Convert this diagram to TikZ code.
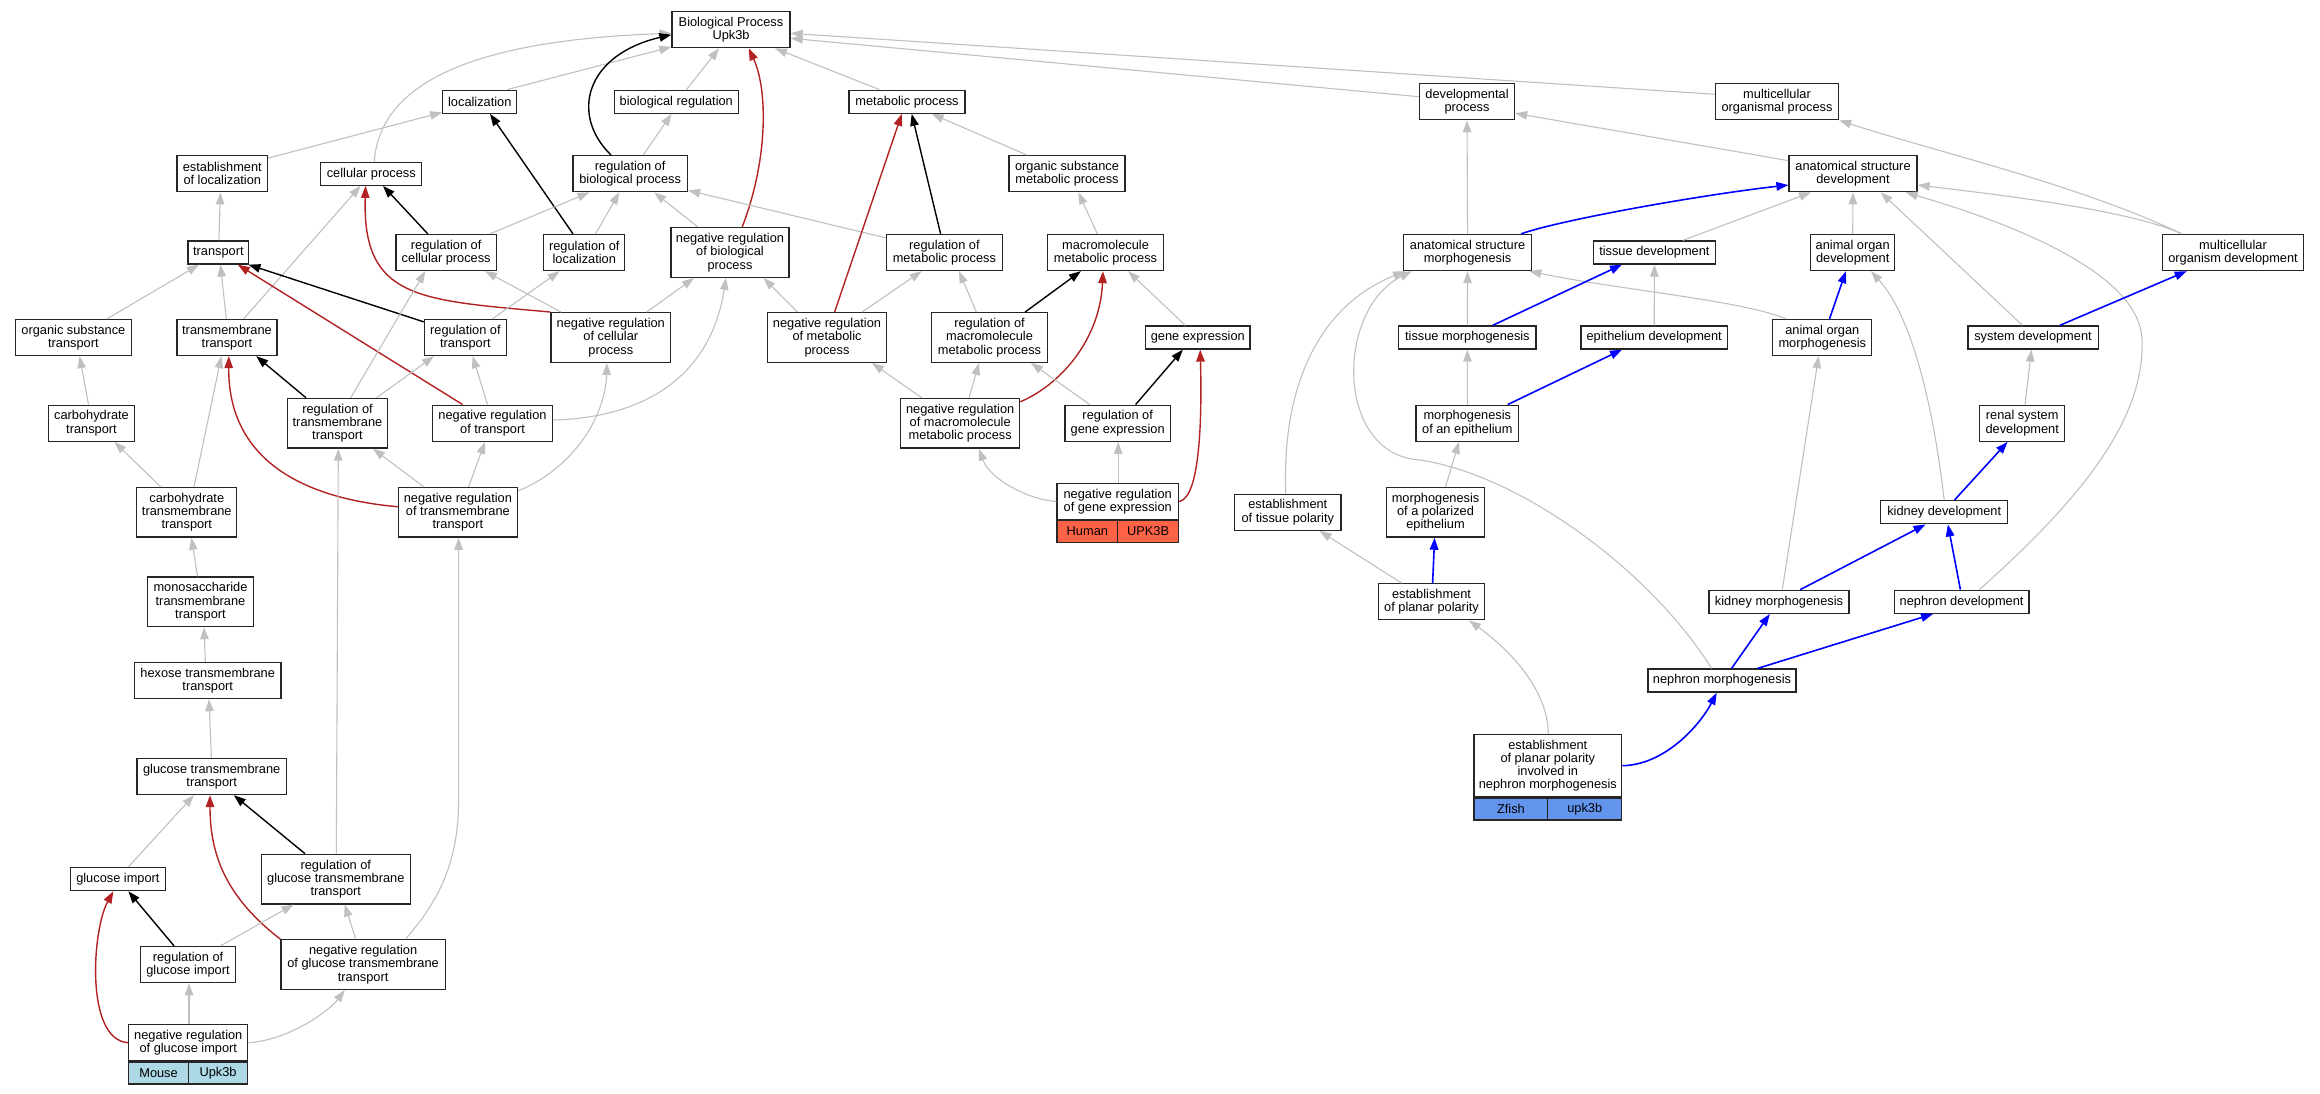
\documentclass[tikz,border=0pt]{standalone}
\usepackage{fontspec}
\setmainfont{Liberation Sans}
\usetikzlibrary{arrows.meta}
\definecolor{egray}{HTML}{C0C0C0}
\definecolor{ered}{HTML}{B22222}
\definecolor{eblue}{HTML}{0000FF}
\definecolor{humanc}{HTML}{FF6347}
\definecolor{mousec}{HTML}{ADD8E6}
\definecolor{zfishc}{HTML}{6495ED}
\newcommand{\gofont}{\fontsize{12.8pt}{13.3pt}\selectfont}
\tikzset{
  box/.style={draw=black!85, line width=1.3pt, fill=white, inner sep=0pt, align=center, font=\gofont},
  h1/.style={minimum height=23pt},
  h2/.style={minimum height=36pt},
  h3/.style={minimum height=49.6pt},
  cellbox/.style={draw=black!85, line width=1.3pt, inner sep=0pt, font=\gofont, minimum height=21.7pt},
  tipa/.style={-{Triangle[length=12pt,width=8.5pt]}},
  eg/.style={tipa, draw=egray, line width=1.1pt},
  ek/.style={tipa, draw=black, line width=1.4pt},
  er/.style={tipa, draw=ered, line width=1.4pt},
  eb/.style={tipa, draw=eblue, line width=1.6pt},
}
\begin{document}
\begin{tikzpicture}[x=1pt,y=-1pt]
\useasboundingbox (0,0) rectangle (2320,1093);
% rank 0
\node[box,h2,minimum width=118] (bp) at (731,29.7) {Biological Process\\Upk3b};
% rank 1
\node[box,h1,minimum width=74] (loc) at (479.8,101.7) {localization};
\node[box,h1,minimum width=124] (bioreg) at (676.3,101.7) {biological regulation};
\node[box,h1,minimum width=116] (met) at (907,101.7) {metabolic process};
\node[box,h2,minimum width=95] (dev) at (1467,101.7) {developmental\\process};
\node[box,h2,minimum width=123] (mop) at (1777,101.7) {multicellular\\organismal process};
% rank 2
\node[box,h2,minimum width=90.6] (estloc) at (222.3,173.7) {establishment\\of localization};
\node[box,h1,minimum width=101] (cell) at (371.3,173.7) {cellular process};
\node[box,h2,minimum width=114.5] (rbp) at (630.2,173.7) {regulation of\\biological process};
\node[box,h2,minimum width=116] (osmp) at (1067,173.7) {organic substance\\metabolic process};
\node[box,h2,minimum width=128] (asd) at (1853,173.7) {anatomical structure\\development};
% rank 3
\node[box,h1,minimum width=60.7] (transport) at (218.4,252.5) {transport};
\node[box,h2,minimum width=100.4] (rcp) at (446.2,252.5) {regulation of\\cellular process};
\node[box,h2,minimum width=81] (rloc) at (584.3,252.5) {regulation of\\localization};
\node[box,h3,minimum width=118] (nrbp) at (730,252.5) {negative regulation\\of biological\\process};
\node[box,h2,minimum width=116] (rmp) at (944.4,252.5) {regulation of\\metabolic process};
\node[box,h2,minimum width=116] (mmp) at (1105.5,252.5) {macromolecule\\metabolic process};
\node[box,h2,minimum width=128] (asm) at (1467.6,252.5) {anatomical structure\\morphogenesis};
\node[box,h1,minimum width=122.4] (td) at (1654.4,252.5) {tissue development};
\node[box,h2,minimum width=84] (aod) at (1852.7,252.5) {animal organ\\development};
\node[box,h2,minimum width=141.3] (mod) at (2233,252.5) {multicellular\\organism development};
% rank 4
\node[box,h2,minimum width=116] (ost) at (73.4,337.5) {organic substance\\transport};
\node[box,h2,minimum width=100] (tmt) at (227,337.5) {transmembrane\\transport};
\node[box,h2,minimum width=82] (rt) at (465.4,337.5) {regulation of\\transport};
\node[box,h3,minimum width=119.6] (nrcp) at (610.8,337.5) {negative regulation\\of cellular\\process};
\node[box,h3,minimum width=119] (nrmp) at (827,337.5) {negative regulation\\of metabolic\\process};
\node[box,h3,minimum width=116] (rmmp) at (989.5,337.5) {regulation of\\macromolecule\\metabolic process};
\node[box,h1,minimum width=104.5] (ge) at (1197.8,337.5) {gene expression};
\node[box,h1,minimum width=137.3] (tm) at (1467.4,337.5) {tissue morphogenesis};
\node[box,h1,minimum width=146.7] (ed) at (1654.2,337.5) {epithelium development};
\node[box,h2,minimum width=99] (aom) at (1822.3,337.5) {animal organ\\morphogenesis};
\node[box,h1,minimum width=130.3] (sd) at (2033,337.5) {system development};
% rank 5
\node[box,h2,minimum width=85.6] (ct) at (91.5,423.2) {carbohydrate\\transport};
\node[box,h3,minimum width=100] (rtmt) at (337.5,423.2) {regulation of\\transmembrane\\transport};
\node[box,h2,minimum width=119.4] (nrt) at (492.5,423.2) {negative regulation\\of transport};
\node[box,h3,minimum width=119] (nrmmp) at (960.2,423.2) {negative regulation\\of macromolecule\\metabolic process};
\node[box,h2,minimum width=105.4] (rge) at (1117.7,423.2) {regulation of\\gene expression};
\node[box,h2,minimum width=102.6] (moe) at (1467.3,423.2) {morphogenesis\\of an epithelium};
\node[box,h2,minimum width=85] (rsd) at (2022.2,423.2) {renal system\\development};
% rank 6
\node[box,h3,minimum width=100] (ctt) at (186.8,512.3) {carbohydrate\\transmembrane\\transport};
\node[box,h3,minimum width=119] (nrtmt) at (457.9,512.3) {negative regulation\\of transmembrane\\transport};
\node[box,minimum height=35.6,minimum width=121.4] (nrge) at (1117.7,501.5) {negative regulation\\of gene expression};
\node[cellbox,fill=humanc,minimum width=60.7,anchor=north west] (nrgeA) at (nrge.south west) {Human};
\node[cellbox,fill=humanc,minimum width=60.7,anchor=north east] (nrgeB) at (nrge.south east) {UPK3B};
\node[box,h2,minimum width=106.4] (etp) at (1287.8,512.3) {establishment\\of tissue polarity};
\node[box,h3,minimum width=98.5] (mpe) at (1435.5,512.3) {morphogenesis\\of a polarized\\epithelium};
\node[box,h1,minimum width=127] (kd) at (1944.2,512.3) {kidney development};
% rank 7
\node[box,h3,minimum width=105.5] (mst) at (200.5,601.8) {monosaccharide\\transmembrane\\transport};
\node[box,h2,minimum width=106.5] (epp) at (1431.5,601.8) {establishment\\of planar polarity};
\node[box,h1,minimum width=139.8] (km) at (1779,601.8) {kidney morphogenesis};
\node[box,h1,minimum width=134.8] (nd) at (1961.6,601.8) {nephron development};
% rank 8
\node[box,h2,minimum width=146.7] (hex) at (207.7,680.6) {hexose transmembrane\\transport};
\node[box,h1,minimum width=148] (nm) at (1722,680.6) {nephron morphogenesis};
% rank 9
\node[box,h2,minimum width=149.7] (gtt) at (211.7,776.5) {glucose transmembrane\\transport};
\node[box,minimum height=62.7,minimum width=147.6] (zf) at (1547.8,765.7) {establishment\\of planar polarity\\involved in\\nephron morphogenesis};
\node[cellbox,fill=zfishc,minimum width=73.8,anchor=north west] (zfA) at (zf.south west) {Zfish};
\node[cellbox,fill=zfishc,minimum width=73.8,anchor=north east] (zfB) at (zf.south east) {upk3b};
% rank 10
\node[box,h1,minimum width=94.6] (gi) at (117.9,879.1) {glucose import};
\node[box,h3,minimum width=149.2] (rgtt) at (335.8,879.1) {regulation of\\glucose transmembrane\\transport};
% rank 11
\node[box,h2,minimum width=94.5] (rgi) at (188,964.6) {regulation of\\glucose import};
\node[box,h3,minimum width=164.2] (nrgtt) at (363.1,964.6) {negative regulation\\of glucose transmembrane\\transport};
% rank 12
\node[box,h2,minimum width=119] (nrgi) at (188.3,1042.7) {negative regulation\\of glucose import};
\node[cellbox,fill=mousec,minimum width=59.5,minimum height=22,anchor=north west] (nrgiA) at (nrgi.south west) {Mouse};
\node[cellbox,fill=mousec,minimum width=59.5,minimum height=22,anchor=north east] (nrgiB) at (nrgi.south east) {Upk3b};

% ---------- edges ----------
\draw[eg] ([xshift=3]cell.north) .. controls (380,80) and (480,40) .. ([yshift=-3.6]bp.west);
\draw[eg] ([xshift=27.6]loc.north) -- ([yshift=1.5]bp.south west);
\draw[ek] ([xshift=-19.2]rbp.north) .. controls (570,115) and (585,55) .. ([yshift=-5]bp.west);
\draw[eg] ([xshift=10.2]bioreg.north) -- ([xshift=-12]bp.south);
\draw[er] ([xshift=12.2]nrbp.north) .. controls (768,160) and (768,90) .. ([xshift=17.7]bp.south);
\draw[eg] ([xshift=-27.6]met.north) -- ([xshift=44]bp.south);
\draw[eg] ([yshift=5]dev.west) -- ([yshift=-8.6]bp.east);
\draw[eg] ([yshift=7.4]mop.west) -- ([yshift=-3.6]bp.east);
\draw[eg] ([yshift=-3]estloc.north east) -- ([yshift=1.5]loc.south west);
\draw[ek] ([xshift=-11.3]rloc.north) -- ([xshift=10.2]loc.south);
\draw[eg] ([xshift=13]rbp.north) -- ([xshift=-4.7]bioreg.south);
\draw[eg] ([xshift=0.5]transport.north) -- ([xshift=-1.9]estloc.south);
\draw[ek] ([xshift=-18.4]rcp.north) -- ([xshift=11.7]cell.south);
\draw[eg] ([xshift=16.7]tmt.north) -- ([xshift=-10.7]cell.south);
\draw[er] (nrcp.north west) .. controls (420,300) and (362,300) .. ([xshift=-5.7]cell.south);
\draw[eg] ([xshift=43.8]rcp.north) -- ([xshift=-40.7]rbp.south);
\draw[eg] ([xshift=11.2]rloc.north) -- ([xshift=-10.9]rbp.south);
\draw[eg] ([xshift=-32]nrbp.north) -- ([xshift=24]rbp.south);
\draw[eg] ([yshift=-4]rmp.north west) -- ([yshift=2]rbp.south east);
\draw[eg] ([xshift=33.6]ost.north) -- ([xshift=-19.4]transport.south);
\draw[eg] ([xshift=-0.7]tmt.north) -- ([xshift=2]transport.south);
\draw[ek] ([yshift=-3]rt.north west) -- ([xshift=-1]transport.south east);
\draw[er] ([xshift=-29.9]nrt.north) -- ([xshift=19.4]transport.south);
\draw[eg] ([xshift=39.1]rtmt.north) -- ([xshift=-31.4]rt.south);
\draw[eg] ([xshift=13.2]rtmt.north) -- ([xshift=-20.9]rcp.south);
\draw[eg] ([xshift=-5]nrt.north) -- ([xshift=7.2]rt.south);
\draw[eg] ([xshift=-49.7]nrcp.north) -- ([xshift=38.8]rcp.south);
\draw[eg] ([xshift=27.1]rt.north) -- ([xshift=-24.7]rloc.south);
\draw[eg] ([xshift=35.9]nrcp.north) -- ([xshift=-36]nrbp.south);
\draw[eg] ([xshift=-29.7]nrmp.north) -- ([xshift=33.6]nrbp.south);
\draw[eg] ([yshift=-4]nrtmt.north east) .. controls (570,470) and (605,420) .. ([xshift=-3.8]nrcp.south);
\draw[eg] ([yshift=3.2]nrt.east) .. controls (640,418) and (710,380) .. ([xshift=-4]nrbp.south);
\draw[er] ([yshift=5.6]nrtmt.west) .. controls (320,500) and (228,470) .. ([xshift=1.8]tmt.south);
\draw[ek] ([xshift=-31.5]rtmt.north) -- ([xshift=29.2]tmt.south);
\draw[eg] ([xshift=-3]ct.north) -- ([xshift=6.2]ost.south);
\draw[eg] ([xshift=-26.1]ctt.north) -- ([xshift=22.9]ct.south);
\draw[eg] ([xshift=7.2]ctt.north) -- ([xshift=-5.6]tmt.south);
\draw[eg] ([xshift=-34.1]nrtmt.north) -- ([xshift=35.5]rtmt.south);
\draw[eg] ([xshift=10.7]nrtmt.north) -- ([xshift=-7.5]nrt.south);
\draw[eg] ([xshift=-3]mst.north) -- ([xshift=4.7]ctt.south);
\draw[eg] ([xshift=-2.3]hex.north) -- ([xshift=3.5]mst.south);
\draw[eg] ([xshift=-0.3]gtt.north) -- ([xshift=1.3]hex.south);
\draw[eg] ([xshift=0.5]rgtt.north) -- ([xshift=0.8]rtmt.south);
\draw[eg] ([xshift=42.3]nrgtt.north) .. controls (440,900) and (458.6,860) .. (458.6,800) -- ([xshift=0.7]nrtmt.south);
\draw[eg] ([xshift=10.4]gi.north) -- ([xshift=-17.7]gtt.south);
\draw[ek] ([xshift=-30.8]rgtt.north) -- ([xshift=22.1]gtt.south);
\draw[er] (nrgtt.north west) .. controls (230,900) and (210,860) .. ([xshift=-1.7]gtt.south);
\draw[ek] ([xshift=-13.9]rgi.north) -- ([xshift=10.4]gi.south);
\draw[er] (nrgi.west) .. controls (85,1040) and (92,930) .. ([xshift=-4.5]gi.south);
\draw[eg] ([xshift=32.4]rgi.north) -- ([xshift=-42.3]rgtt.south);
\draw[eg] ([xshift=-7.4]nrgtt.north) -- ([xshift=8.9]rgtt.south);
\draw[eg] ([xshift=0.7]nrgi.north) -- ([xshift=1]rgi.south);
\draw[eg] (nrgi.east) .. controls (290,1040) and (330,1010) .. ([xshift=-18.4]nrgtt.south);
\draw[ek] ([xshift=-3.8]rmp.north) -- ([xshift=4.7]met.south);
\draw[er] ([xshift=7.6]nrmp.north) -- ([xshift=-5.2]met.south);
\draw[eg] ([xshift=-40]osmp.north) -- ([xshift=24.6]met.south);
\draw[eg] ([xshift=-8.2]mmp.north) -- ([xshift=11.4]osmp.south);
\draw[eg] (asm.north) -- (dev.south);
\draw[eg] ([yshift=-5.6]asd.north west) -- ([yshift=-11.6]dev.east);
\draw[eg] ([xshift=-51.3]mod.north) .. controls (2080,185) and (1930,150) .. (mop.south east);
\draw[eg] ([xshift=35]nrmp.north) -- ([xshift=-22.7]rmp.south);
\draw[eg] ([xshift=-13.1]rmmp.north) -- ([xshift=14.6]rmp.south);
\draw[ek] ([xshift=35.6]rmmp.north) -- ([xshift=-24.6]mmp.south);
\draw[er] ([yshift=-4]nrmmp.north east) .. controls (1060,385) and (1100,340) .. ([xshift=-2.5]mmp.south);
\draw[eg] ([xshift=-12.5]ge.north) -- ([xshift=22.6]mmp.south);
\draw[eg] ([xshift=-38.5]nrmmp.north) -- ([xshift=45]nrmp.south);
\draw[eg] ([xshift=8.8]nrmmp.north) -- ([xshift=-10.5]rmmp.south);
\draw[eg] ([xshift=-27.9]rge.north) -- ([xshift=41.5]rmmp.south);
\draw[ek] ([xshift=17.9]rge.north) -- ([xshift=-15]ge.south);
\draw[er] (nrge.east) .. controls (1200,498) and (1202,420) .. ([xshift=2.4]ge.south);
\draw[eg] ([xshift=0.5]nrge.north) -- ([xshift=0.5]rge.south);
\draw[eg] (nrge.west) .. controls (1030,500) and (990,480) .. ([xshift=18.8]nrmmp.south);
\draw[eb] ([xshift=53.5]asm.north) .. controls (1560,220) and (1700,195) .. ([yshift=-11.3]asd.west);
\draw[eg] ([xshift=28.4]td.north) -- ([xshift=-41.9]asd.south);
\draw[eg] (aod.north) -- (asd.south);
\draw[eg] ([xshift=-10.5]sd.north) -- ([xshift=27.7]asd.south);
\draw[eg] ([xshift=-51.3]mod.north) .. controls (2130,210) and (2000,195) .. ([yshift=-11.3]asd.east);
\draw[eg] ([xshift=17.7]nd.north) .. controls (2080,500) and (2145,420) .. (2142,340) .. controls (2140,270) and (2000,220) .. ([xshift=52.6]asd.south);
\draw[eg] (kd.north) .. controls (1935,420) and (1915,320) .. ([xshift=18.3]aod.south);
\draw[eb] ([xshift=7.2]aom.north) -- ([xshift=-6.8]aod.south);
\draw[eg] ([xshift=-36.1]aom.north) .. controls (1740,300) and (1620,290) .. ([xshift=-3]asm.south east);
\draw[eg] (tm.north) -- (asm.south);
\draw[eb] ([xshift=25.3]tm.north) -- ([xshift=-32.4]td.south);
\draw[eg] (ed.north) -- (td.south);
\draw[eb] ([xshift=40.4]moe.north) -- ([xshift=-32.2]ed.south);
\draw[eg] (moe.north) -- (tm.south);
\draw[eg] ([xshift=10]mpe.north) -- ([xshift=-8.3]moe.south);
\draw[eb] ([xshift=1.1]epp.north) -- ([xshift=-0.9]mpe.south);
\draw[eg] ([xshift=-29.8]epp.north) -- ([xshift=31.8]etp.south);
\draw[eg] ([xshift=-2]etp.north) .. controls (1282,400) and (1310,310) .. ([xshift=2]asm.south west);
\draw[eg] ([xshift=-10.4]nm.north) .. controls (1650,570) and (1520,475) .. (1420,460) .. controls (1335,455) and (1335,310) .. ([xshift=-55.9]asm.south);
\draw[eg] ([xshift=3.3]km.north) -- ([xshift=-3.7]aom.south);
\draw[eg] ([xshift=2.8]rsd.north) -- ([xshift=-1.5]sd.south);
\draw[eb] ([xshift=26.8]sd.north) -- ([xshift=-46.3]mod.south);
\draw[eb] ([xshift=10.2]kd.north) -- ([xshift=-14.6]rsd.south);
\draw[eb] ([xshift=21.2]km.north) -- ([xshift=-18.7]kd.south);
\draw[eb] ([xshift=-1.2]nd.north) -- ([xshift=3.7]kd.south);
\draw[eb] ([xshift=9.5]nm.north) -- ([xshift=-9.2]km.south);
\draw[eb] ([xshift=35.4]nm.north) -- ([xshift=-28.6]nd.south);
\draw[eb] (zf.east) .. controls (1665,765) and (1700,725) .. ([xshift=-5.3]nm.south);
\draw[eg] ([xshift=0.5]zf.north) .. controls (1548,690) and (1510,650) .. ([xshift=37.5]epp.south);
\end{tikzpicture}
\end{document}
